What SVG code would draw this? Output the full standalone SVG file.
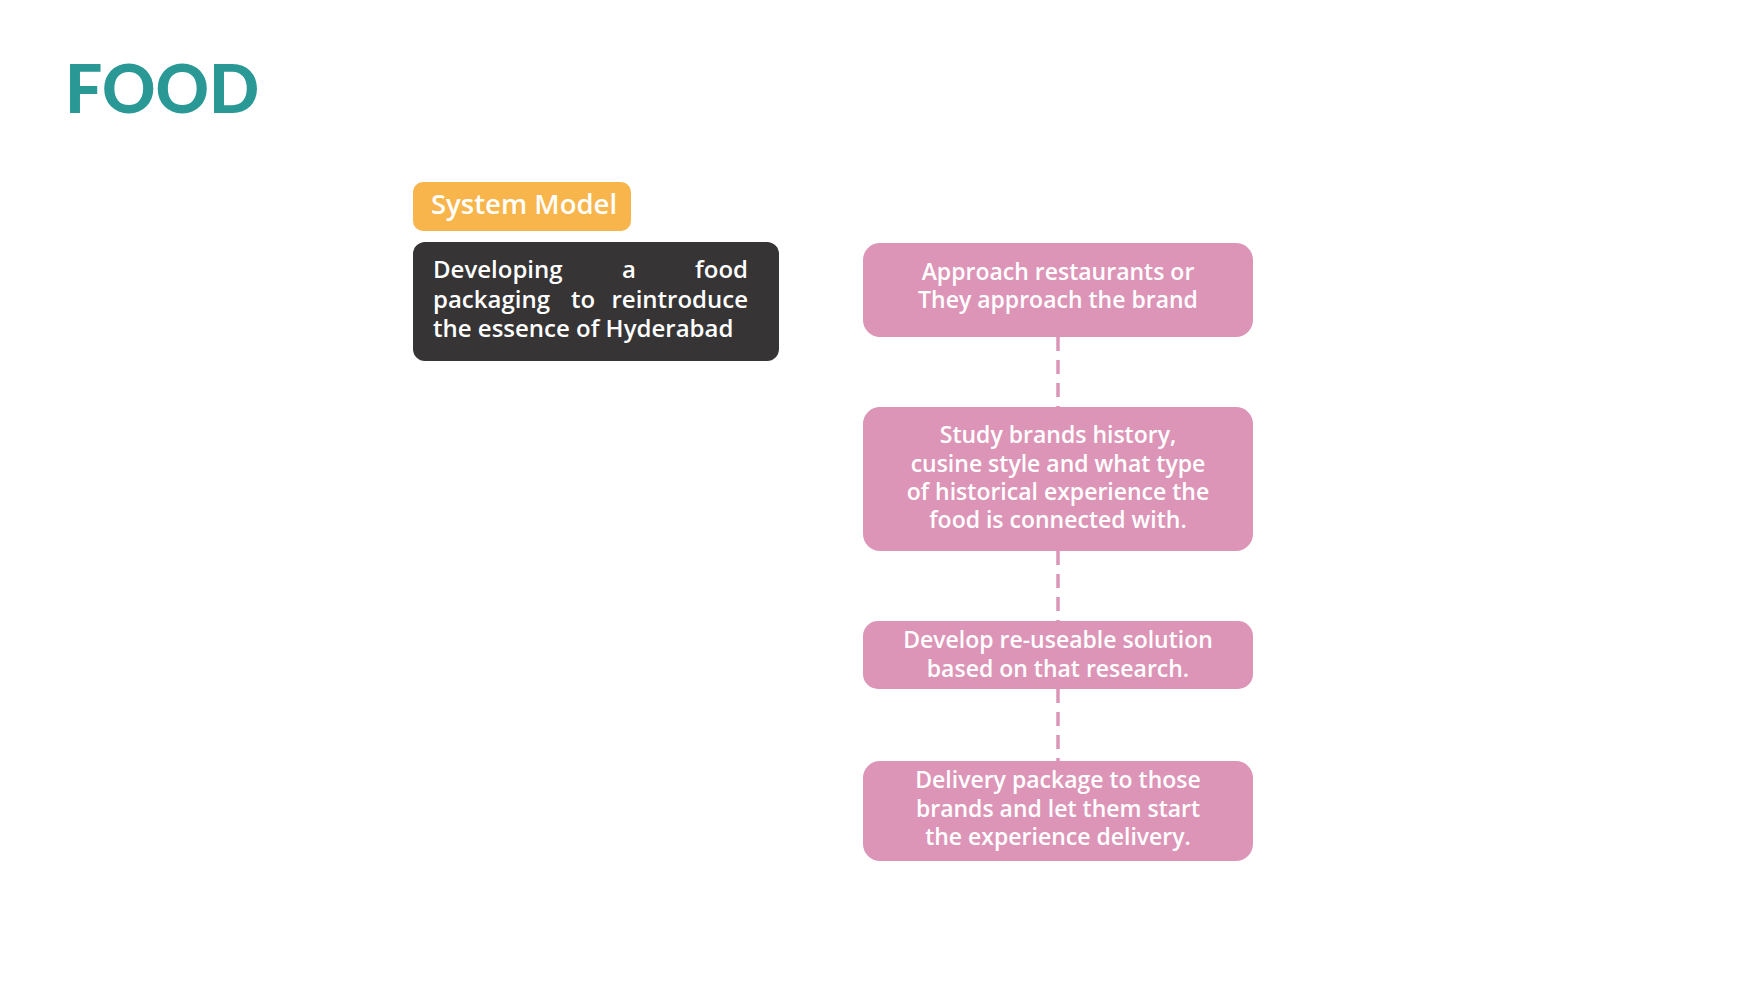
<svg xmlns="http://www.w3.org/2000/svg" width="1754" height="987" viewBox="0 0 1754 987">
<style>
.pink{fill:#dc95b7;}
.pt{font-family:"Open Sans","Noto Sans",sans-serif;font-weight:600;font-size:23px;fill:#ffffff;text-anchor:middle;}
.lt{font-family:"Open Sans","Noto Sans",sans-serif;font-weight:600;font-size:24px;fill:#ffffff;}
.conn{stroke:#dc95b7;stroke-width:3.5;stroke-dasharray:14 9;fill:none;}
</style>
<rect width="1754" height="987" fill="#ffffff"/>
<text id="title" x="65" y="113" font-family="Lato,'Noto Sans',sans-serif" font-weight="900" font-size="66" fill="#2a9996">FOOD</text>
<g id="badge">
<rect x="413" y="182" width="218" height="49" rx="10" fill="#f7b54b"/>
<text x="431" y="214" font-family="'Open Sans','Noto Sans',sans-serif" font-weight="600" font-size="27.5" fill="#ffffff">System Model</text>
</g>
<g id="goal">
<rect x="413" y="242" width="366" height="119" rx="12" fill="#363435"/>
<text class="lt" y="278"><tspan x="433">Developing</tspan><tspan x="622">a</tspan><tspan x="748" text-anchor="end">food</tspan></text>
<text class="lt" y="308"><tspan x="433">packaging</tspan><tspan x="571">to</tspan><tspan x="748" text-anchor="end">reintroduce</tspan></text>
<text class="lt" y="337"><tspan x="433">the essence of Hyderabad</tspan></text>
</g>
<g id="connectors">
<line class="conn" x1="1058" y1="337" x2="1058" y2="407"/>
<line class="conn" x1="1058" y1="551" x2="1058" y2="621"/>
<line class="conn" x1="1058" y1="689" x2="1058" y2="761"/>
</g>
<g id="step1">
<rect class="pink" x="863" y="243" width="390" height="94" rx="17"/>
<text class="pt" x="1058" y="280">Approach restaurants or</text>
<text class="pt" x="1058" y="308">They approach the brand</text>
</g>
<g id="step2">
<rect class="pink" x="863" y="407" width="390" height="144" rx="17"/>
<text class="pt" x="1058" y="443">Study brands history,</text>
<text class="pt" x="1058" y="472">cusine style and what type</text>
<text class="pt" x="1058" y="500">of historical experience the</text>
<text class="pt" x="1058" y="528">food is connected with.</text>
</g>
<g id="step3">
<rect class="pink" x="863" y="621" width="390" height="68" rx="15"/>
<text class="pt" x="1058" y="648">Develop re-useable solution</text>
<text class="pt" x="1058" y="677">based on that research.</text>
</g>
<g id="step4">
<rect class="pink" x="863" y="761" width="390" height="100" rx="17"/>
<text class="pt" x="1058" y="788">Delivery package to those</text>
<text class="pt" x="1058" y="817">brands and let them start</text>
<text class="pt" x="1058" y="845">the experience delivery.</text>
</g>
</svg>
